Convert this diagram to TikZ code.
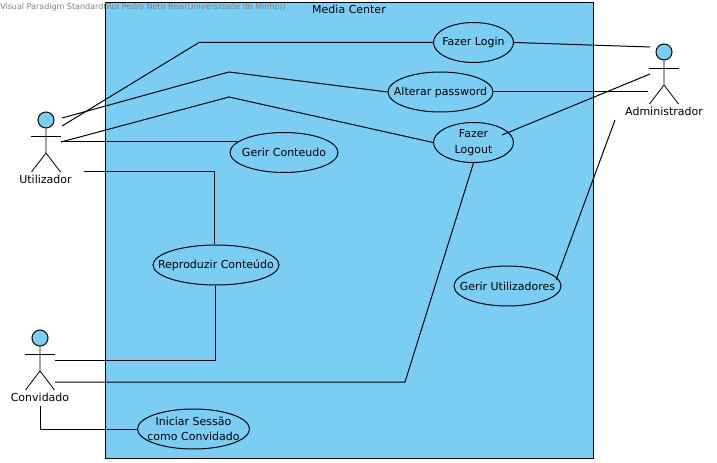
\documentclass[tikz,border=0pt]{standalone}
\usepackage{fontspec}
\setmainfont{DejaVu Sans}
\usetikzlibrary{shapes.geometric,calc}
\definecolor{ucblue}{HTML}{7ACEF4}
\tikzset{
  x=0.75pt,y=-0.75pt,
  usecase/.style 2 args={ellipse,draw=black,fill=ucblue,line width=0.75pt,inner sep=0pt,minimum width=#1*0.75pt,minimum height=30pt,
    label={[inner sep=0pt,align=center,font=\fontsize{8.25pt}{11.5pt}\selectfont]center:#2}},
  actorlabel/.style={inner sep=0pt,font=\fontsize{8.25pt}{10pt}\selectfont},
  conn/.style={draw=black,line width=0.75pt},
  stick/.style={draw=black,line width=0.6pt}
}
\newcommand{\actorfig}[3]{%
  \node[circle,draw=black,fill=ucblue,line width=0.75pt,minimum size=12pt,inner sep=0pt] (#3head) at (#1,#2) {};
  \draw[stick] (#3head.south) -- ($(#1,#2)+(0,33)$) -- ($(#1,#2)+(-14.5,52)$);
  \draw[stick] ($(#1,#2)+(0,33)$) -- ($(#1,#2)+(14.5,52)$);
  \draw[stick] ($(#1,#2)+(-15,16)$) -- ($(#1,#2)+(15,16)$);
}
\begin{document}
\begin{tikzpicture}
\useasboundingbox (0,0) rectangle (717,463);
\node[draw=black,fill=ucblue,line width=0.75pt,inner sep=0pt,minimum width=366pt,minimum height=341.6pt,anchor=north west] (system) at (105,2.5) {};
\node[inner sep=0pt,font=\fontsize{8.25pt}{10pt}\selectfont] (systitle) at (349,9) {Media Center};
\node[inner sep=0pt,anchor=west,text=black!50,font=\fontsize{6pt}{7pt}\selectfont] (wm) at (0,7) {Visual Paradigm Standard(Rui Pedro Neto Reis(Universidade do Minho))};

\coordinate (u1) at (62,126);
\coordinate (u2) at (62,118);
\coordinate (u3) at (61,142);
\coordinate (u4) at (84,172);
\coordinate (c1) at (55,360);
\coordinate (c2) at (55,382);
\coordinate (c3) at (40,406);
\coordinate (a1) at (650,47);
\coordinate (a2) at (648,92);
\coordinate (a3) at (650,74);
\coordinate (a4) at (615,120);

\node[usecase={80}{Fazer Login}] (login) at (473.5,42.5) {};
\node[usecase={105}{Alterar password}] (pass) at (440.5,92) {};
\node[usecase={80}{Fazer\\Logout}] (logout) at (473.5,142.5) {};
\node[usecase={108}{Gerir Conteudo}] (conteudo) at (284,152.5) {};
\node[usecase={126}{Reproduzir Conteúdo}] (repro) at (216,265) {};
\node[usecase={107}{Gerir Utilizadores}] (gutil) at (507.5,286) {};
\node[usecase={112}{Iniciar Sessão\\como Convidado}] (sessao) at (193.5,429) {};

\actorfig{46}{120}{util}
\actorfig{664}{52}{admin}
\actorfig{40}{338}{conv}
\node[actorlabel] (utillabel) at (45.5,179) {Utilizador};
\node[actorlabel] (adminlabel) at (664,111) {Administrador};
\node[actorlabel] (convlabel) at (40,397) {Convidado};

\draw[conn] (u1) -- (199,42.5) -- (login.west);
\draw[conn] (u2) -- (229,72) -- (pass.west);
\draw[conn] (u3) -- (229,97) -- (logout.west);
\draw[conn] (u3) -- (conteudo.167 |- u3);
\draw[conn] (u4) -- (214.5,172) -- (repro.north -| 214.5,0);
\draw[conn] (repro.south -| 215,0) -- (215,360) -- (c1);
\draw[conn] (c2) -- (405,382) -- (logout.south);
\draw[conn] (c3) -- (40,429) -- (sessao.west);
\draw[conn] (login.east) -- (a1);
\draw[conn] (pass.east) -- (a2);
\draw[conn] (502,135) -- (a3);
\draw[conn] (556,280) -- (a4);
\end{tikzpicture}
\end{document}
